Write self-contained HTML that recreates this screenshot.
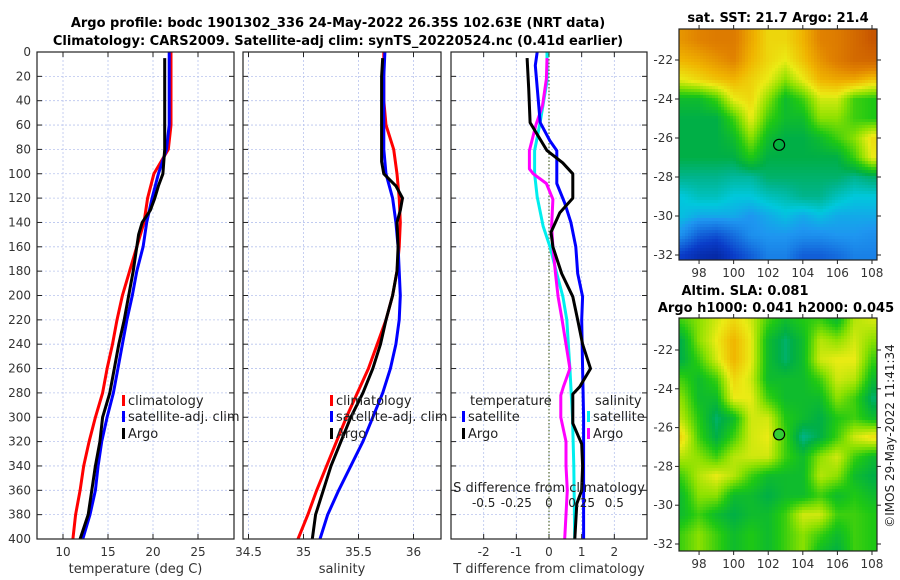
<!DOCTYPE html>
<html><head><meta charset="utf-8">
<style>
body{margin:0;background:#fff;}
svg{display:block;font-family:"DejaVu Sans","Liberation Sans",sans-serif;}
</style></head>
<body>
<svg id="chart" width="900" height="580" viewBox="0 0 900 580" xmlns="http://www.w3.org/2000/svg">
<text x="338" y="27" text-anchor="middle" font-size="13" font-weight="bold">Argo profile: bodc 1901302_336 24-May-2022 26.35S 102.63E (NRT data)</text>
<text x="338" y="45" text-anchor="middle" font-size="13" font-weight="bold">Climatology: CARS2009. Satellite-adj clim: synTS_20220524.nc (0.41d earlier)</text>
<text x="778" y="22" text-anchor="middle" font-size="13" font-weight="bold">sat. SST: 21.7 Argo: 21.4</text>
<text x="745" y="295" text-anchor="middle" font-size="13" font-weight="bold">Altim. SLA: 0.081</text>
<text x="776" y="312" text-anchor="middle" font-size="13" font-weight="bold">Argo h1000: 0.041 h2000: 0.045</text>
<text transform="translate(894,436) rotate(-90)" text-anchor="middle" font-size="12" fill="#222">©IMOS 29-May-2022 11:41:34</text>
<g id="g"></g>
</svg>
<script>
// depth axis
const depths = [0,20,40,60,80,100,120,140,160,180,200,220,240,260,280,300,320,340,360,380,400];
const depthTicks = [0,20,40,60,80,100,120,140,160,180,200,220,240,260,280,300,320,340,360,380,400];
// panel 1 temperature
const tClim = [22.0,22.0,22.0,22.0,21.7,20.1,19.4,19.0,18.2,17.4,16.6,16.0,15.5,14.9,14.4,13.6,12.9,12.3,11.9,11.4,11.1];
const tSat  = [21.8,21.8,21.8,21.8,21.5,20.6,19.9,19.3,18.9,18.2,17.7,17.1,16.6,16.1,15.6,14.9,14.3,13.9,13.6,13.0,12.2];
const argoDepthT = [5,20,40,60,80,90,100,110,120,130,140,150,160,180,200,220,240,260,280,300,320,340,360,380,400];
const tArgo = [21.3,21.3,21.3,21.3,21.3,21.2,21.1,20.6,20.2,19.7,18.8,18.4,18.2,17.8,17.3,16.8,16.2,15.7,15.2,14.4,14.1,13.6,13.2,12.8,11.9];
const tTicks = [10,15,20,25];
// panel 2 salinity
const sClim = [35.73,35.73,35.73,35.75,35.82,35.85,35.87,35.88,35.87,35.85,35.81,35.75,35.67,35.59,35.49,35.39,35.30,35.21,35.12,35.04,34.95];
const sSat  = [35.74,35.73,35.73,35.73,35.73,35.75,35.81,35.84,35.86,35.87,35.88,35.87,35.84,35.79,35.72,35.63,35.54,35.43,35.32,35.22,35.15];
const argoDepthS = [5,20,40,60,80,90,100,110,120,130,140,160,180,200,220,240,260,280,300,320,340,360,380,400];
const sArgo = [35.72,35.71,35.71,35.71,35.71,35.71,35.73,35.84,35.90,35.88,35.85,35.86,35.85,35.81,35.75,35.70,35.63,35.54,35.43,35.34,35.25,35.18,35.11,35.08];
const sTicks = [34.5,35,35.5,36];
// panel 3 differences
const dDepthTA = [5,30,58,81,91,100,120,132,148,160,182,201,220,240,260,275,281,305,322,340,360,371,400];
const dTArgo = [-0.67,-0.62,-0.58,-0.06,0.42,0.73,0.73,0.33,0.06,0.12,0.39,0.73,0.88,1.03,1.27,0.94,0.73,0.73,1.0,1.03,1.0,0.85,0.79];
const dDepthTS = [0,11,58,73,81,108,124,140,160,182,201,220,260,300,340,400];
const dTSat = [-0.36,-0.42,-0.27,0.03,0.24,0.24,0.48,0.67,0.82,0.88,1.03,1.0,1.03,1.06,1.06,1.06];
const dDepthSS = [0,24,58,81,100,119,143,160,182,201,220,260,300,340,400];
const dSSat = [-0.015,-0.015,-0.068,-0.11,-0.11,-0.09,-0.045,0.008,0.06,0.106,0.136,0.16,0.18,0.19,0.197];
const dDepthSA = [5,22,44,60,81,96,100,108,121,143,160,182,201,220,240,260,275,282,300,320,340,360,380,400];
const dSArgo = [-0.015,-0.02,-0.05,-0.1,-0.15,-0.15,-0.12,-0.02,0.03,0.02,0.03,0.05,0.07,0.1,0.13,0.16,0.11,0.09,0.09,0.13,0.13,0.14,0.13,0.12];
const dTTicks = [-2,-1,0,1,2];
const dSTicks = [-0.5,-0.25,0,0.25,0.5];
const dSTickLabels = ["-0.5","-0.25","0","0.25","0.5"];
// maps (value grids, 1-degree, lon 97..108)
const mapLons = [97,98,99,100,101,102,103,104,105,106,107,108];
const sstLats = [-21,-22,-23,-24,-25,-26,-27,-28,-29,-30,-31,-32];
const sstGrid = [
[0.75,0.78,0.80,0.80,0.72,0.65,0.65,0.70,0.78,0.80,0.85,0.90],
[0.70,0.72,0.75,0.78,0.70,0.65,0.62,0.68,0.75,0.80,0.85,0.86],
[0.62,0.65,0.68,0.70,0.66,0.62,0.55,0.62,0.70,0.72,0.72,0.68],
[0.45,0.45,0.50,0.62,0.65,0.55,0.45,0.50,0.60,0.60,0.50,0.48],
[0.42,0.42,0.42,0.50,0.62,0.50,0.45,0.45,0.55,0.55,0.50,0.48],
[0.42,0.42,0.42,0.45,0.55,0.45,0.42,0.42,0.45,0.50,0.55,0.64],
[0.42,0.42,0.42,0.42,0.48,0.42,0.42,0.42,0.42,0.42,0.50,0.62],
[0.38,0.38,0.38,0.37,0.37,0.40,0.40,0.40,0.40,0.40,0.38,0.40],
[0.33,0.35,0.35,0.33,0.33,0.35,0.36,0.38,0.38,0.35,0.33,0.33],
[0.32,0.30,0.30,0.30,0.28,0.30,0.32,0.30,0.32,0.30,0.30,0.30],
[0.27,0.20,0.18,0.22,0.27,0.28,0.28,0.27,0.27,0.28,0.28,0.27],
[0.15,0.10,0.08,0.15,0.20,0.25,0.25,0.20,0.20,0.22,0.25,0.25]];
const slaLats = [-20.5,-21.5,-22.5,-23.5,-24.5,-25.5,-26.5,-27.5,-28.5,-29.5,-30.5,-31.5,-32.5];
const slaGrid = [
[0.50,0.55,0.60,0.65,0.60,0.50,0.45,0.48,0.50,0.45,0.58,0.60],
[0.42,0.55,0.62,0.70,0.62,0.45,0.40,0.45,0.58,0.55,0.60,0.55],
[0.42,0.50,0.60,0.70,0.62,0.45,0.40,0.45,0.60,0.62,0.62,0.50],
[0.50,0.45,0.50,0.65,0.60,0.45,0.45,0.45,0.50,0.60,0.58,0.45],
[0.55,0.45,0.45,0.62,0.62,0.50,0.45,0.45,0.45,0.55,0.50,0.40],
[0.58,0.48,0.40,0.45,0.60,0.60,0.48,0.45,0.42,0.48,0.50,0.45],
[0.65,0.50,0.42,0.50,0.60,0.62,0.50,0.38,0.42,0.50,0.60,0.64],
[0.58,0.55,0.50,0.58,0.60,0.60,0.50,0.45,0.55,0.60,0.50,0.45],
[0.50,0.58,0.62,0.58,0.50,0.45,0.45,0.45,0.58,0.55,0.45,0.42],
[0.45,0.55,0.55,0.45,0.45,0.42,0.45,0.45,0.50,0.45,0.48,0.45],
[0.45,0.50,0.45,0.42,0.45,0.45,0.50,0.60,0.60,0.50,0.50,0.48],
[0.50,0.55,0.50,0.45,0.48,0.45,0.50,0.55,0.50,0.45,0.50,0.48],
[0.50,0.55,0.50,0.45,0.48,0.45,0.50,0.55,0.45,0.42,0.50,0.48]];
const lonTicks = [98,100,102,104,106,108];
const latTicks = [-22,-24,-26,-28,-30,-32];
const argoPos = [102.63,-26.35];

const NS='http://www.w3.org/2000/svg';
const G=document.getElementById('g');
function mk(tag,attrs,parent){const e=document.createElementNS(NS,tag);for(const k in attrs)e.setAttribute(k,attrs[k]);(parent||G).appendChild(e);return e;}
const pTop=52, pBot=539;
const yD = d => pTop + d*(pBot-pTop)/400;
const panels = [
 {x0:37,x1:234,dom:[7.11,29.0],ticks:tTicks,labels:tTicks.map(String),title:'temperature (deg C)',name:'temperature'},
 {x0:243,x1:441,dom:[34.45,36.25],ticks:sTicks,labels:sTicks.map(String),title:'salinity',name:'salinity'},
 {x0:451,x1:647,dom:[-3,3],ticks:dTTicks,labels:dTTicks.map(String),title:'T difference from climatology',name:'difference'}
];
panels.forEach((p,i)=>{
  p.sx = v => p.x0 + (v-p.dom[0])*(p.x1-p.x0)/(p.dom[1]-p.dom[0]);
  depthTicks.forEach(d=>{
    const l=mk('line',{x1:p.x0,x2:p.x1,y1:yD(d),y2:yD(d),stroke:'#b8c4ee','stroke-width':0.8,'stroke-dasharray':'2,2'});
    
    
    mk('line',{x1:p.x0,x2:p.x0+5,y1:yD(d),y2:yD(d),stroke:'#222'});
    mk('line',{x1:p.x1-5,x2:p.x1,y1:yD(d),y2:yD(d),stroke:'#222'});
  });
  p.ticks.forEach((t,j)=>{
    const x=p.sx(t);
    const l=mk('line',{x1:x,x2:x,y1:pTop,y2:pBot,stroke:'#b8c4ee','stroke-width':0.8,'stroke-dasharray':'2,2'});
    
    
    mk('line',{x1:x,x2:x,y1:pBot-5,y2:pBot,stroke:'#222'});
    mk('line',{x1:x,x2:x,y1:pTop,y2:pTop+5,stroke:'#222'});
    const tx=mk('text',{x:x,y:556,'text-anchor':'middle','font-size':12,fill:'#333'});
    tx.textContent=p.labels[j];
    
    
  });
  const at=mk('text',{x:(p.x0+p.x1)/2,y:573,'text-anchor':'middle','font-size':13,fill:'#333'});
  at.textContent=p.title;
  
  
});
depthTicks.forEach(d=>{
  const t=mk('text',{x:31,y:yD(d)+4,'text-anchor':'end','font-size':12,fill:'#333'});
  t.textContent=String(d);
  
  
});
function line(p,xs,ds,col,name,w){
  const pts=xs.map((v,i)=>p.sx(v).toFixed(1)+','+yD(ds[i]).toFixed(1)).join(' ');
  const e=mk('polyline',{points:pts,fill:'none',stroke:col,'stroke-width':w||3,'stroke-linejoin':'round'});
  
  
}
const P1=panels[0],P2=panels[1],P3=panels[2];
line(P1,tClim,depths,'#ff0000','temp-climatology-line');
line(P1,tSat,depths,'#0000ff','temp-satellite-line');
line(P1,tArgo,argoDepthT,'#000','temp-argo-line');
line(P2,sClim,depths,'#ff0000','salinity-climatology-line');
line(P2,sSat,depths,'#0000ff','salinity-satellite-line');
line(P2,sArgo,argoDepthS,'#000','salinity-argo-line');
const z=mk('line',{x1:P3.sx(0),x2:P3.sx(0),y1:pTop,y2:pBot,stroke:'#556b2f','stroke-width':1.2,'stroke-dasharray':'1.5,2'});


const P3S={sx:v=>P3.sx(v*4)};
line(P3S,dSSat,dDepthSS,'#00eeee','salinity-diff-satellite-line');
line(P3S,dSArgo,dDepthSA,'#ff00ff','salinity-diff-argo-line');
line(P3,dTSat,dDepthTS,'#0000ff','temp-diff-satellite-line');
line(P3,dTArgo,dDepthTA,'#000','temp-diff-argo-line');
dSTicks.forEach((s,j)=>{
  const t=mk('text',{x:P3S.sx(s),y:507,'text-anchor':'middle','font-size':12,fill:'#222'});
  t.textContent=dSTickLabels[j];
  
  
});
const st=mk('text',{x:549,y:492,'text-anchor':'middle','font-size':13,fill:'#222'});
st.textContent='S difference from climatology';


panels.forEach(p=>{
  const r=mk('rect',{x:p.x0,y:pTop,width:p.x1-p.x0,height:pBot-pTop,fill:'none',stroke:'#222','stroke-width':1.2});
  
  
});
function legend(x,y,col,label,name){
  const m=mk('rect',{x:x,y:y-10,width:3,height:11,fill:col});
  
  
  const t=mk('text',{x:x+6,y:y,'font-size':13,fill:'#222'});
  t.textContent=label;
  
  
}
[122,330].forEach(x=>{
  legend(x,405,'#ff0000','climatology','legend-climatology');
  legend(x,421,'#0000ff','satellite-adj. clim','legend-satellite-adj');
  legend(x,438,'#000','Argo','legend-argo');
});
const lt=mk('text',{x:470,y:405,'font-size':13,fill:'#222'});lt.textContent='temperature';


legend(462,421,'#0000ff','satellite','legend-temp-satellite');
legend(462,438,'#000','Argo','legend-temp-argo');
const ls=mk('text',{x:595,y:405,'font-size':13,fill:'#222'});ls.textContent='salinity';


legend(587,421,'#00eeee','satellite','legend-sal-satellite');
legend(587,438,'#ff00ff','Argo','legend-sal-argo');

const cstops=[[0,[0,20,130]],[0.15,[10,60,200]],[0.28,[30,150,240]],[0.33,[0,200,220]],[0.38,[0,180,140]],[0.42,[0,175,70]],[0.48,[30,200,20]],[0.55,[140,225,0]],[0.62,[235,235,20]],[0.7,[240,180,0]],[0.78,[225,130,0]],[0.88,[205,95,0]],[1,[170,40,0]]];
function cmap(v){v=Math.max(0,Math.min(1,v));for(let i=1;i<cstops.length;i++){if(v<=cstops[i][0]){const a=cstops[i-1],b=cstops[i],f=(v-a[0])/(b[0]-a[0]);return 'rgb('+a[1].map((c,k)=>Math.round(c+(b[1][k]-c)*f)).join(',')+')';}}return 'rgb(170,40,0)';}
function drawMap(m){
  const sx=lon=>m.x0+(lon-96.84)*(m.x1-m.x0)/(108.29-96.84);
  const sy=lat=>m.lat22+(-22-lat)*(m.lat32-m.lat22)/10;
  const lonOf=x=>96.84+(x-m.x0)*(108.29-96.84)/(m.x1-m.x0);
  const latOf=y=>-22-(y-m.lat22)*10/(m.lat32-m.lat22);
  const g=mk('g',{});
  
  
  const cs=3;
  function val(lon,lat){
    const L=m.lats;let fi=(lon-mapLons[0]);fi=Math.max(0,Math.min(mapLons.length-1.001,fi));
    let fj=(L[0]-lat)/(L[0]-L[1]);fj=Math.max(0,Math.min(L.length-1.001,fj));
    const i=Math.floor(fi),j=Math.floor(fj),a=fi-i,b=fj-j,G2=m.grid;
    return G2[j][i]*(1-a)*(1-b)+G2[j][i+1]*a*(1-b)+G2[j+1][i]*(1-a)*b+G2[j+1][i+1]*a*b;
  }
  for(let y=m.y0;y<m.y1;y+=cs){for(let x=m.x0;x<m.x1;x+=cs){
    mk('rect',{x:x,y:y,width:Math.min(cs+0.4,m.x1-x),height:Math.min(cs+0.4,m.y1-y),fill:cmap(val(lonOf(x+1.5),latOf(y+1.5)))},g);
  }}
  const fr=mk('rect',{x:m.x0,y:m.y0,width:m.x1-m.x0,height:m.y1-m.y0,fill:'none',stroke:'#222','stroke-width':1.2});
  
  
  lonTicks.forEach(l=>{
    const x=sx(l);
    mk('line',{x1:x,x2:x,y1:m.y0-4,y2:m.y0,stroke:'#222'});
    mk('line',{x1:x,x2:x,y1:m.y1,y2:m.y1+4,stroke:'#222'});
    const t=mk('text',{x:x,y:m.y1+17,'text-anchor':'middle','font-size':12,fill:'#333'});t.textContent=String(l);
    
    
  });
  latTicks.forEach(l=>{
    const y=sy(l);
    mk('line',{x1:m.x0-4,x2:m.x0,y1:y,y2:y,stroke:'#222'});
    mk('line',{x1:m.x1,x2:m.x1+4,y1:y,y2:y,stroke:'#222'});
    const t=mk('text',{x:m.x0-6,y:y+4,'text-anchor':'end','font-size':12,fill:'#333'});t.textContent=String(l);
    
    
  });
  const c=mk('circle',{cx:sx(argoPos[0]),cy:sy(argoPos[1]),r:5.5,fill:m.dotFill,stroke:'#000','stroke-width':1.2});
  
  
}
drawMap({name:'sst-map',x0:679,x1:877,y0:29,y1:260,lat22:60,lat32:255,lats:sstLats,grid:sstGrid,dotFill:'none'});
drawMap({name:'sla-map',x0:679,x1:877,y0:318,y1:551,lat22:350,lat32:544,lats:slaLats,grid:slaGrid,dotFill:'#33cc33'});
</script>
</body></html>
